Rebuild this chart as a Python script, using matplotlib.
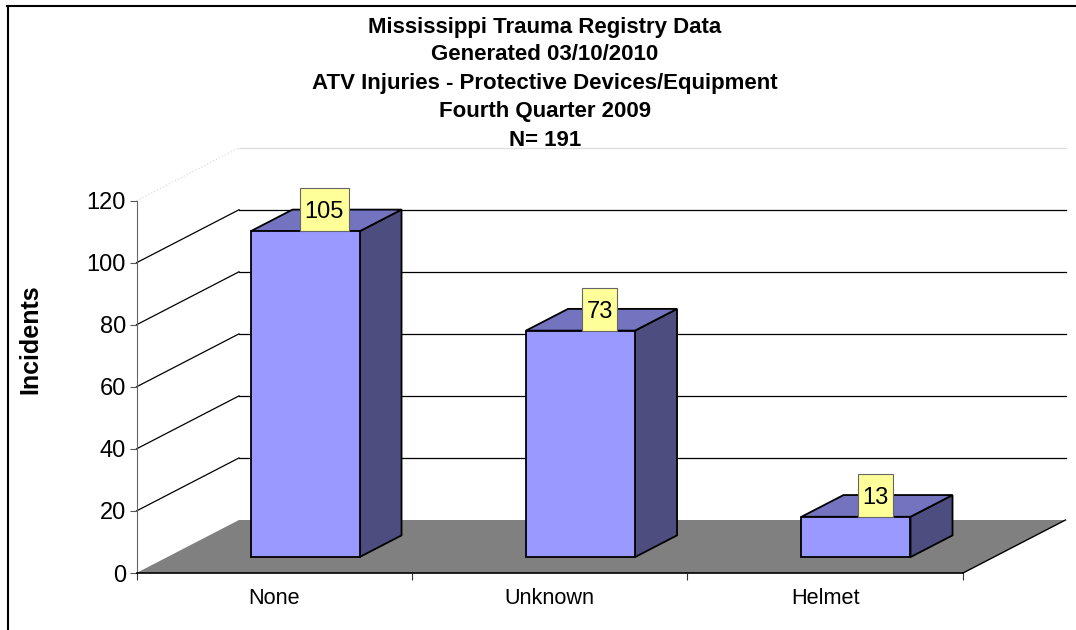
import matplotlib
matplotlib.use("Agg")
import matplotlib.pyplot as plt
from matplotlib.lines import Line2D
from matplotlib.patches import Polygon, Rectangle

plt.rcParams["font.family"] = ["Liberation Sans", "DejaVu Sans"]

# chart data
categories = ["None", "Unknown", "Helmet"]
incidents = [105, 73, 13]
y_ticks = [0, 20, 40, 60, 80, 100, 120]
title_lines = [
    "Mississippi Trauma Registry Data",
    "Generated 03/10/2010",
    "ATV Injuries - Protective Devices/Equipment",
    "Fourth Quarter 2009",
    "N= 191",
]

W, H = 1076, 630
fig = plt.figure(figsize=(W / 100, H / 100), dpi=100)
ax = fig.add_axes([136.5 / W, 1 - 573 / H, 826.5 / W, 372.3 / H])
ax.set_xlim(-0.5, 2.5)
ax.set_ylim(0, 120)
ax.patch.set_visible(False)

# pixels to data units
px_x = 3 / 826.5
px_y = 120 / 372.3

# depth of the 3d floor
DX = 102.5 * px_x
DY = 53 * px_y
BAR_FRONT, BAR_BACK = 0.3, 0.71
HALF_W = 54.5 * px_x


def proj(x, v, depth):
    return (x + depth * DX, v + depth * DY)


# walls
for v in y_ticks[1:]:
    color = "#dddddd" if v == 120 else "black"
    ls = ":" if v == 120 else "-"
    x0, y0 = proj(-0.5, v, 0)
    x1, y1 = proj(-0.5, v, 1)
    x2, y2 = proj(2.5, v, 1)
    ax.plot([x0, x1], [y0, y1], color=color, lw=0.9, ls=ls, clip_on=False, zorder=1)
    ax.plot([x1, x2], [y1, y2], color=color, lw=0.9, clip_on=False, zorder=1)

# floor
floor = [proj(-0.5, 0, 0), proj(2.5, 0, 0), proj(2.5, 0, 1), proj(-0.5, 0, 1)]
ax.add_patch(Polygon(floor, facecolor="#808080", edgecolor="none", clip_on=False, zorder=2))
ax.plot([floor[1][0], floor[2][0]], [floor[1][1], floor[2][1]], color="black", lw=1, clip_on=False, zorder=2)

# bars
for i, (cat, val) in enumerate(zip(categories, incidents)):
    l, r = i - HALF_W, i + HALF_W
    a = proj(l, 0, BAR_FRONT)
    b = proj(r, 0, BAR_FRONT)
    c = proj(r, val, BAR_FRONT)
    d = proj(l, val, BAR_FRONT)
    e = proj(r, 0, BAR_BACK)
    f = proj(r, val, BAR_BACK)
    g = proj(l, val, BAR_BACK)
    edge = dict(edgecolor="black", lw=1.3, joinstyle="miter", clip_on=False, zorder=3)
    ax.add_patch(Polygon([b, e, f, c], facecolor="#4d4d80", **edge))
    ax.add_patch(Polygon([d, c, f, g], facecolor="#7373bf", **edge))
    ax.add_patch(Polygon([a, b, c, d], facecolor="#9999ff", **edge))

    # value label box
    cx = i + 50 * px_x
    cy = proj(i, val, BAR_BACK)[1] - 0.3 * px_y
    w = (7 + 14 * len(str(val))) * px_x
    h = 43 * px_y
    ax.add_patch(Rectangle((cx - w / 2, cy - h / 2), w, h, facecolor="#ffff99",
                           edgecolor="#666666", lw=0.8, clip_on=False, zorder=4))
    ax.text(cx, cy, str(val), ha="center", va="center_baseline", fontsize=17, zorder=5)

# axes
ax.set_yticks(y_ticks)
ax.set_xticks(range(len(categories)))
ax.set_xticklabels(categories)
ax.set_xticks([-0.5, 0.5, 1.5, 2.5], minor=True)
ax.tick_params(axis="x", which="major", length=0, pad=11, labelsize=15.6)
ax.tick_params(axis="x", which="minor", length=5, width=0.8, color="#333333")
ax.tick_params(axis="y", length=5, width=0.8, color="#555555", pad=2.5, labelsize=17)
for side in ["top", "right"]:
    ax.spines[side].set_visible(False)
ax.spines["left"].set_color("#666666")
ax.spines["bottom"].set_linewidth(1.2)
ax.spines["left"].set_zorder(6)
ax.spines["bottom"].set_zorder(6)

fig.text(30 / W, 1 - 339.5 / H, "Incidents", rotation=90, ha="center", va="center",
         fontsize=18, fontweight="bold")

# title
for line, y in zip(title_lines, [27, 55, 83, 111.5, 141]):
    fig.text(545 / W, 1 - y / H, line, ha="center", va="center", fontsize=16, fontweight="bold")

# chart border
fig.add_artist(Line2D([7.5 / W, 7.5 / W], [0, 1 - 5.5 / H], color="black", lw=1.5))
fig.add_artist(Line2D([7 / W, 1], [1 - 5.5 / H, 1 - 5.5 / H], color="black", lw=1.5))

fig.savefig("out.png", dpi=100)
